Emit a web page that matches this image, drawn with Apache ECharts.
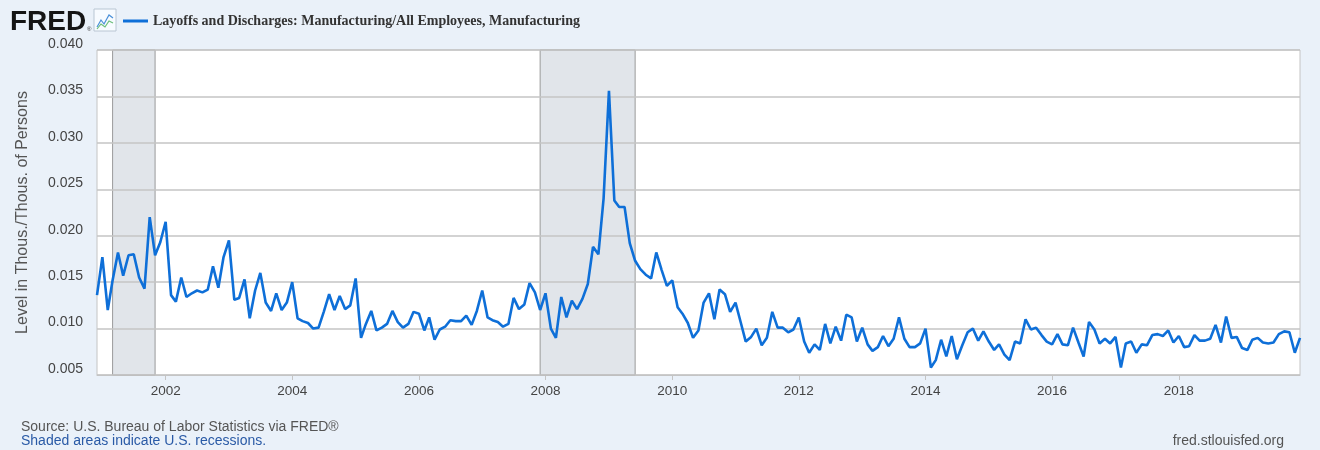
<!DOCTYPE html>
<html>
<head>
<meta charset="utf-8">
<title>FRED - Layoffs and Discharges: Manufacturing</title>
<script src="https://cdn.jsdelivr.net/npm/echarts@6/dist/echarts.min.js"></script>
<style>
html, body { margin: 0; padding: 0; background: #eaf1f9; }
#main { width: 1320px; height: 450px; }
</style>
</head>
<body>
<div id="main"></div>
<script>
// monthly observations, first one is Dec 2000
var startYear = 2000;
var startMonth = 12;
var values = [
    0.0136,
    // 2001
    0.0177, 0.0120, 0.0152, 0.0182, 0.0157, 0.0179, 0.0180, 0.0155, 0.0143, 0.0220, 0.0179, 0.0193,
    // 2002
    0.0215, 0.0136, 0.0129, 0.0155, 0.0134, 0.0138, 0.0141, 0.0139, 0.0142, 0.0167, 0.0144, 0.0177,
    // 2003
    0.0195, 0.0131, 0.0133, 0.0153, 0.0111, 0.0141, 0.0160, 0.0128, 0.0119, 0.0138, 0.0120, 0.0128,
    // 2004
    0.0150, 0.0111, 0.0108, 0.0106, 0.0100, 0.0101, 0.0118, 0.0137, 0.0120, 0.0135, 0.0121, 0.0125,
    // 2005
    0.0154, 0.0090, 0.0105, 0.0119, 0.0098, 0.0101, 0.0105, 0.0119, 0.0107, 0.0101, 0.0105, 0.0118,
    // 2006
    0.0116, 0.0098, 0.0112, 0.0088, 0.0099, 0.0102, 0.0109, 0.0108, 0.0108, 0.0114, 0.0104, 0.0119,
    // 2007
    0.0141, 0.0112, 0.0109, 0.0107, 0.0102, 0.0105, 0.0133, 0.0121, 0.0126, 0.0149, 0.0139, 0.0120,
    // 2008
    0.0138, 0.0100, 0.0090, 0.0134, 0.0112, 0.0130, 0.0121, 0.0132, 0.0148, 0.0188, 0.0180, 0.0240,
    // 2009
    0.0356, 0.0238, 0.0231, 0.0231, 0.0192, 0.0173, 0.0164, 0.0158, 0.0154, 0.0182, 0.0163, 0.0146,
    // 2010
    0.0152, 0.0123, 0.0116, 0.0106, 0.0090, 0.0098, 0.0128, 0.0138, 0.0110, 0.0142, 0.0137, 0.0118,
    // 2011
    0.0128, 0.0106, 0.0086, 0.0091, 0.0100, 0.0082, 0.0090, 0.0118, 0.0101, 0.0101, 0.0096, 0.0099,
    // 2012
    0.0112, 0.0086, 0.0074, 0.0083, 0.0077, 0.0105, 0.0084, 0.0102, 0.0087, 0.0115, 0.0112, 0.0086,
    // 2013
    0.0101, 0.0083, 0.0076, 0.0080, 0.0092, 0.0081, 0.0089, 0.0112, 0.0089, 0.0080, 0.0080, 0.0084,
    // 2014
    0.0100, 0.0058, 0.0066, 0.0088, 0.0070, 0.0092, 0.0067, 0.0082, 0.0096, 0.0100, 0.0087, 0.0097,
    // 2015
    0.0086, 0.0077, 0.0083, 0.0072, 0.0066, 0.0086, 0.0084, 0.0110, 0.0099, 0.0101, 0.0093, 0.0086,
    // 2016
    0.0083, 0.0094, 0.0083, 0.0082, 0.0101, 0.0085, 0.0070, 0.0107, 0.0099, 0.0084, 0.0089, 0.0084,
    // 2017
    0.0091, 0.0058, 0.0084, 0.0086, 0.0074, 0.0083, 0.0082, 0.0093, 0.0094, 0.0092, 0.0098, 0.0085,
    // 2018
    0.0092, 0.0080, 0.0081, 0.0093, 0.0087, 0.0087, 0.0089, 0.0104, 0.0085, 0.0113, 0.0090, 0.0091,
    // 2019
    0.0079, 0.0077, 0.0088, 0.0090, 0.0085, 0.0084, 0.0085, 0.0094, 0.0097, 0.0096, 0.0074, 0.0090
];
var tickYears = [2002, 2004, 2006, 2008, 2010, 2012, 2014, 2016, 2018];
// [start year, start month, end year, end month]
var recessions = [
    [2001, 3, 2001, 11],
    [2007, 12, 2009, 6]
];
var seriesName = 'Layoffs and Discharges: Manufacturing/All Employees, Manufacturing';

function monthTime(y, m) {
    return Date.UTC(y, m - 1, 1);
}

var points = [];
for (var i = 0; i < values.length; i++) {
    var k = startMonth - 1 + i;
    points.push([monthTime(startYear + Math.floor(k / 12), k % 12 + 1), values[i]]);
}
var tickTimes = tickYears.map(function (y) { return monthTime(y, 1); });
var areas = recessions.map(function (r) {
    return [{ xAxis: monthTime(r[0], r[1]) }, { xAxis: monthTime(r[2], r[3]) }];
});

var chart = echarts.init(document.getElementById('main'));

var option = {
    backgroundColor: '#eaf1f9',
    animation: false,
    textStyle: { fontFamily: 'Liberation Sans, Arial, sans-serif' },
    grid: {
        left: 97, right: 20, top: 50, bottom: 75,
        show: true, backgroundColor: '#ffffff',
        borderColor: '#c4c4c4', borderWidth: 1
    },
    legend: {
        data: [seriesName],
        left: 123, top: 14, padding: 0,
        icon: 'rect', itemWidth: 25, itemHeight: 3, itemGap: 6,
        textStyle: {
            fontFamily: 'Liberation Serif, Times New Roman, serif',
            fontWeight: 'bold', fontSize: 14, color: '#333'
        }
    },
    graphic: [
        {
            type: 'text', left: 10, top: 8,
            style: { text: 'FRED', font: 'bold 28px "Liberation Sans", Arial, sans-serif', fill: '#151515' }
        },
        {
            type: 'text', left: 87, top: 26,
            style: { text: '®', font: '6px "Liberation Sans", Arial', fill: '#333' }
        },
        {
            type: 'rect', shape: { x: 94, y: 9, width: 22, height: 22 },
            style: { fill: '#f7fbff', stroke: '#b9c6d3', lineWidth: 1 }
        },
        {
            type: 'polyline', shape: { points: [[97, 27], [101, 20], [104, 24], [109, 15], [113, 18]] },
            style: { stroke: '#4a90d9', lineWidth: 1.2, fill: null }
        },
        {
            type: 'polyline', shape: { points: [[97, 29], [101, 24], [105, 27], [109, 21], [113, 23]] },
            style: { stroke: '#6cbf7a', lineWidth: 1.2, fill: null }
        },
        {
            type: 'text', left: 21, top: 420,
            style: { text: 'Source: U.S. Bureau of Labor Statistics via FRED®', font: '14px "Liberation Sans", Arial', fill: '#555' }
        },
        {
            type: 'text', left: 21, top: 434,
            style: { text: 'Shaded areas indicate U.S. recessions.', font: '14px "Liberation Sans", Arial', fill: '#2a5aa6' }
        },
        {
            type: 'text', right: 36, top: 434,
            style: { text: 'fred.stlouisfed.org', font: '14px "Liberation Sans", Arial', fill: '#555' }
        }
    ],
    xAxis: {
        type: 'value',
        min: points[0][0],
        max: points[points.length - 1][0],
        axisLine: { lineStyle: { color: '#c4c4c4' } },
        axisTick: { customValues: tickTimes, length: 5, lineStyle: { color: '#c4c4c4' } },
        axisLabel: {
            customValues: tickTimes,
            formatter: function (v) { return String(new Date(v).getUTCFullYear()); },
            color: '#444', fontSize: 13.5, margin: 9
        },
        splitLine: { show: false }
    },
    yAxis: {
        type: 'value',
        min: 0.005, max: 0.040, interval: 0.005,
        z: 1,
        name: 'Level in Thous./Thous. of Persons',
        nameLocation: 'middle', nameGap: 66,
        nameTextStyle: { color: '#555', fontSize: 16 },
        axisLine: { show: false },
        axisTick: { show: false },
        axisLabel: {
            formatter: function (v) { return v.toFixed(3); },
            color: '#444', fontSize: 14, margin: 14,
            verticalAlign: 'bottom', lineHeight: 12
        },
        splitLine: { lineStyle: { color: '#c4c4c4', width: 1.5 } }
    },
    series: [
        {
            name: seriesName,
            type: 'line',
            data: points,
            z: 2,
            symbol: 'none',
            showSymbol: false,
            lineStyle: { color: '#0e6fd8', width: 2.6 },
            itemStyle: { color: '#0e6fd8' },
            markArea: {
                silent: true,
                z: 0.5,
                itemStyle: { color: '#e1e5ea', borderColor: '#9a9a9a', borderWidth: 1 },
                data: areas
            }
        }
    ]
};

chart.setOption(option);
</script>
</body>
</html>
